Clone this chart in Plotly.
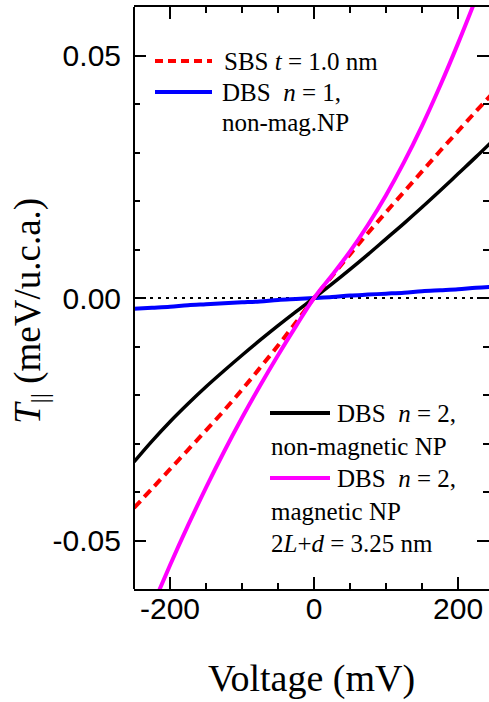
import plotly.graph_objects as go

voltage = [-250, -225, -200, -175, -150, -125, -100, -75, -50, -25, 0,
           25, 50, 75, 100, 125, 150, 175, 200, 225, 250]
sbs_t1 = [-0.0433, -0.0393, -0.0353, -0.0313, -0.0273, -0.0232, -0.0189, -0.0144, -0.0098, -0.0050, 0.0,
          0.0045, 0.0090, 0.0134, 0.0177, 0.0219, 0.0261, 0.0303, 0.0344, 0.0385, 0.0425]
dbs_n1 = [-0.0022, -0.0020, -0.0018, -0.0015, -0.0013, -0.0011, -0.0009, -0.0007, -0.0004, -0.0002, 0.0,
          0.0002, 0.0005, 0.0007, 0.0009, 0.0011, 0.0014, 0.0016, 0.0018, 0.0021, 0.0023]
dbs_n2_nonmag = [-0.0338, -0.0295, -0.0255, -0.0218, -0.0183, -0.0150, -0.0118, -0.0087, -0.0057, -0.0028, 0.0,
                 0.0029, 0.0059, 0.0090, 0.0122, 0.0154, 0.0187, 0.0221, 0.0256, 0.0291, 0.0327]
dbs_n2_mag = [-0.0727, -0.0637, -0.0551, -0.0469, -0.0391, -0.0317, -0.0247, -0.0181, -0.0118, -0.0058, 0.0,
              0.0047, 0.0096, 0.0151, 0.0212, 0.0280, 0.0355, 0.0437, 0.0525, 0.0618, 0.0715]

x_ticks = [-200, 0, 200]
y_ticks = [-0.05, 0.0, 0.05]
y_ticklabels = ["-0.05", "0.00", "0.05"]

W, H = 489, 702
L, R, T, B = 134, 489, 7, 589

def px(x):
    return (x - L) / (R - L)

def py(y):
    return (B - y) / (B - T)

fig = go.Figure()
fig.add_trace(go.Scatter(x=voltage, y=dbs_n1, mode="lines", line=dict(color="#0000ff", width=4, shape="spline")))
fig.add_trace(go.Scatter(x=voltage, y=dbs_n2_nonmag, mode="lines", line=dict(color="#000000", width=3.5, shape="spline")))
fig.add_trace(go.Scatter(x=voltage, y=sbs_t1, mode="lines", line=dict(color="#ff0000", width=4, dash="9px,6px", shape="spline")))
fig.add_trace(go.Scatter(x=voltage, y=dbs_n2_mag, mode="lines", line=dict(color="#ff00ff", width=4, shape="spline")))

serif = "Liberation Serif, Times New Roman, serif"
sans = "Liberation Sans, Arial, sans-serif"

shapes = [
    dict(type="line", xref="paper", yref="y", x0=0, x1=1, y0=0, y1=0,
         line=dict(color="black", width=2, dash="3px,5px"), layer="below"),
    dict(type="line", xref="paper", yref="paper", x0=0, x1=0, y0=0, y1=1,
         line=dict(color="black", width=2)),
    dict(type="line", xref="paper", yref="paper", x0=px(155), x1=px(212), y0=py(61), y1=py(61),
         line=dict(color="#ff0000", width=4, dash="8px,5px")),
    dict(type="line", xref="paper", yref="paper", x0=px(155), x1=px(212), y0=py(92), y1=py(92),
         line=dict(color="#0000ff", width=4)),
    dict(type="line", xref="paper", yref="paper", x0=px(270), x1=px(330), y0=py(413), y1=py(413),
         line=dict(color="#000000", width=4)),
    dict(type="line", xref="paper", yref="paper", x0=px(270), x1=px(330), y0=py(478), y1=py(478),
         line=dict(color="#ff00ff", width=4)),
]

def ann(text, x, y):
    return dict(text=text, xref="paper", yref="paper", x=px(x), y=py(y), xanchor="left",
                yanchor="middle", showarrow=False, font=dict(family=serif, size=25, color="black"))

annotations = [
    ann("SBS <i>t</i> = 1.0 nm", 222, 61),
    ann("DBS&nbsp; <i>n</i> = 1,", 220, 92),
    ann("non-mag.NP", 220, 123),
    ann("DBS&nbsp; <i>n</i> = 2,", 335, 413),
    ann("non-magnetic NP", 269, 446),
    ann("DBS&nbsp; <i>n</i> = 2,", 335, 478),
    ann("magnetic NP", 269, 511),
    ann("2<i>L</i>+<i>d</i> = 3.25 nm", 269, 543),
    dict(text="<i>T</i><sub>||</sub> (meV/u.c.a.)", xref="paper", yref="paper",
         x=px(31), y=py(311), xanchor="center", yanchor="middle", textangle=-90,
         showarrow=False, font=dict(family=serif, size=37, color="black")),
]

fig.update_layout(
    width=W, height=H,
    margin=dict(l=L, r=W - R, t=T, b=H - B, autoexpand=False),
    paper_bgcolor="white", plot_bgcolor="white",
    showlegend=False,
    shapes=shapes,
    annotations=annotations,
    xaxis=dict(
        range=[-250, 243], tickvals=x_ticks, ticktext=[str(v) for v in x_ticks],
        ticks="inside", ticklen=12, tickwidth=2, tickcolor="black",
        minor=dict(dtick=50, tick0=0, ticks="inside", ticklen=6, tickwidth=2, tickcolor="black"),
        showline=True, linecolor="black", linewidth=2, mirror="ticks",
        showgrid=False, zeroline=False, automargin=False,
        tickfont=dict(family=sans, size=30, color="black"),
        ticklabelstandoff=-8,
        title=dict(text="Voltage (mV)", font=dict(family=serif, size=38, color="black"), standoff=40),
    ),
    yaxis=dict(
        range=[-0.06, 0.06], tickvals=y_ticks, ticktext=y_ticklabels,
        ticks="inside", ticklen=12, tickwidth=2, tickcolor="black",
        minor=dict(dtick=0.01, tick0=0, ticks="inside", ticklen=6, tickwidth=2, tickcolor="black"),
        showline=False, mirror="ticks",
        showgrid=False, zeroline=False, automargin=False,
        tickfont=dict(family=sans, size=30, color="black"),
        ticklabelstandoff=12,
    ),
)

fig.write_html("out.html", config={"displayModeBar": False},
               post_script="document.body.style.margin='0';document.body.style.overflow='hidden';")
